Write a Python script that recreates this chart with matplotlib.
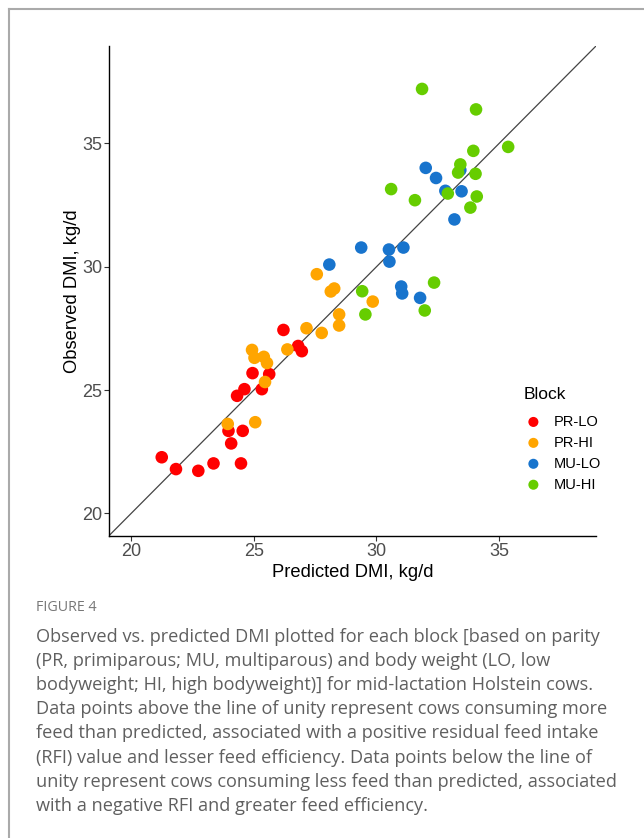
import numpy as np
import matplotlib.pyplot as plt
from matplotlib.lines import Line2D

# Block data: predicted vs observed DMI, kg/d
prlo_pred = [21.25, 21.83, 22.74, 23.36, 24.48, 24.08, 23.97, 24.55, 24.32, 24.62, 25.33, 24.95, 25.63, 26.21, 26.81, 26.96]
prlo_obs = [22.28, 21.80, 21.73, 22.03, 22.03, 22.84, 23.35, 23.35, 24.77, 25.04, 25.04, 25.69, 25.65, 27.44, 26.79, 26.58]
prhi_pred = [23.94, 25.06, 25.46, 24.93, 25.03, 25.41, 25.54, 26.37, 27.15, 27.77, 28.48, 28.48, 27.57, 28.14, 28.28, 29.85]
prhi_obs = [23.63, 23.70, 25.33, 26.63, 26.31, 26.35, 26.10, 26.65, 27.51, 27.32, 28.07, 27.62, 29.70, 29.00, 29.12, 28.59]
mulo_pred = [28.08, 29.38, 30.51, 31.10, 30.53, 31.01, 31.05, 31.78, 33.18, 32.81, 33.47, 32.43, 32.01, 33.42]
mulo_obs = [30.09, 30.78, 30.70, 30.78, 30.21, 29.20, 28.92, 28.74, 31.92, 33.08, 33.06, 33.60, 34.01, 33.92]
muhi_pred = [31.86, 34.06, 35.37, 33.95, 33.42, 33.33, 34.04, 30.60, 31.57, 32.91, 34.09, 33.83, 32.35, 31.97, 29.42, 29.55]
muhi_obs = [37.21, 36.38, 34.86, 34.70, 34.15, 33.82, 33.77, 33.15, 32.70, 32.97, 32.85, 32.40, 29.36, 28.23, 29.01, 28.07]

blocks = ['PR-LO', 'PR-HI', 'MU-LO', 'MU-HI']
colors = ['#FF0000', '#FFA500', '#1874CD', '#66CD00']
ticks = [20, 25, 30, 35]
lims = [19.1, 38.95]

caption = [
    "Observed vs. predicted DMI plotted for each block [based on parity",
    "(PR, primiparous; MU, multiparous) and body weight (LO, low",
    "bodyweight; HI, high bodyweight)] for mid-lactation Holstein cows.",
    "Data points above the line of unity represent cows consuming more",
    "feed than predicted, associated with a positive residual feed intake",
    "(RFI) value and lesser feed efficiency. Data points below the line of",
    "unity represent cows consuming less feed than predicted, associated",
    "with a negative RFI and greater feed efficiency.",
]

plt.rcParams['font.family'] = ['Liberation Sans', 'DejaVu Sans']

W, H = 644, 838
fig = plt.figure(figsize=(W / 100, H / 100), dpi=100)
ax = fig.add_axes([109 / W, 1 - 535.7 / H, (596 - 109) / W, (535.7 - 46) / H])

ax.plot(lims, lims, color='#444444', lw=0.9, zorder=1)
series = [(prlo_pred, prlo_obs), (prhi_pred, prhi_obs), (mulo_pred, mulo_obs), (muhi_pred, muhi_obs)]
for (x, y), name, c in zip(series, blocks, colors):
    ax.scatter(x, y, s=82, color=c, edgecolors='none', label=name, zorder=2)

ax.set_xlim(lims)
ax.set_ylim(lims)
ax.set_xticks(ticks)
ax.set_yticks(ticks)
for s in ['top', 'right']:
    ax.spines[s].set_visible(False)
for s in ['left', 'bottom']:
    ax.spines[s].set_color('black')
    ax.spines[s].set_linewidth(1.0)
ax.tick_params(direction='out', length=3.5, width=0.8, color='#333333',
               labelsize=13, labelcolor='#4d4d4d', pad=1.5)
ax.set_xlabel('Predicted DMI, kg/d', fontsize=13.2, labelpad=3)
ax.set_ylabel('Observed DMI, kg/d', fontsize=13.2, labelpad=1)

leg = ax.legend(title='Block', loc='upper left', bbox_to_anchor=(0.837, 0.318),
                frameon=False, fontsize=10.5, title_fontsize=12.6,
                handlelength=1.3, handletextpad=0.75, labelspacing=0.475,
                markerscale=0.8, borderpad=0.5, borderaxespad=0)
leg._legend_box.align = 'left'
leg._legend_box.sep = 9  # extra room under the title

# frame around figure panel
fig.add_artist(Line2D([9 / W, 1], [1 - 9 / H, 1 - 9 / H], color='#aaaaaa', lw=1.5))
fig.add_artist(Line2D([9 / W, 9 / W], [0, 1 - 9 / H], color='#aaaaaa', lw=1.5))

fig.text(36 / W, 1 - 607 / H, 'FIGURE 4', fontsize=10.3, color='#777777',
         family='Open Sans', va='center')
for i, line in enumerate(caption):
    fig.text(36 / W, 1 - (637 + 24.1 * i) / H, line, fontsize=13.1,
             color='#5f5f5f', family='Open Sans', va='center')

fig.savefig('out.png', dpi=100)
